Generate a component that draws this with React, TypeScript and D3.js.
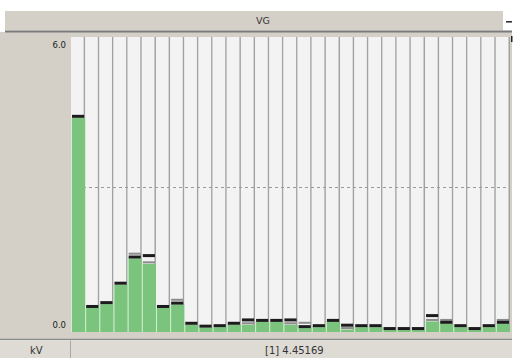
import React from "react";
import * as d3 from "d3";

const channels: number[] = Array.from({ length: 31 }, (_, i) => i + 1);
const current: number[] = [
  4.45169, 0.49, 0.57, 0.975, 1.52, 1.55, 0.49, 0.56, 0.14, 0.08, 0.09,
  0.14, 0.21, 0.2, 0.2, 0.21, 0.07, 0.09, 0.2, 0.1, 0.09, 0.09, 0.03,
  0.03, 0.03, 0.3, 0.16, 0.09, 0.03, 0.09, 0.16,
];
const previous: (number | null)[] = [
  null, null, null, null, 1.59, 1.41, null, 0.63, null, null, null,
  null, 0.14, null, null, 0.14, 0.15, null, null, 0.04, null, null, null,
  null, null, 0.21, 0.21, null, null, null, 0.21,
];
const yTicks: number[] = [0, 6];
const title = "VG";
const unit = "kV";
const readout = "[1] 4.45169";

const W = 514;
const H = 358;

export default function App() {
  const x = d3
    .scaleBand<number>()
    .domain(channels)
    .range([71, 510])
    .padding(0);
  const y = d3.scaleLinear().domain([0, 6]).range([331.5, 43.5]);
  const bw = x.bandwidth();
  const plotTop = 37;
  const plotBottom = 332;
  const font = "'DejaVu Sans', 'Liberation Sans', sans-serif";

  return (
    <svg
      width={W}
      height={H}
      style={{ position: "absolute", left: 0, top: 0, background: "#ffffff" }}
    >
      {/* title bar */}
      <rect x={5} y={11} width={498} height={19.5} fill="#d4d0c8" />
      <text
        x={263}
        y={23.5}
        textAnchor="middle"
        fontFamily={font}
        fontSize={9.5}
        fill="#333"
      >
        {title}
      </text>
      <rect x={506} y={21} width={6} height={1.6} fill="#333" />
      {/* main gray panel */}
      <rect x={0} y={32} width={512} height={308} fill="#d4d0c8" />
      <line x1={5} x2={512} y1={31.5} y2={31.5} stroke="#7a7a7a" strokeWidth={2} />
      <rect x={511} y={36} width={1.5} height={6} fill="#222" />
      {/* columns */}
      {channels.map((c) => (
        <g key={"col" + c}>
          <rect
            x={x(c)!}
            y={plotTop}
            width={bw}
            height={plotBottom - plotTop}
            fill="#f3f3f3"
          />
          <line
            x1={x(c)! + bw - 0.75}
            x2={x(c)! + bw - 0.75}
            y1={plotTop}
            y2={plotBottom}
            stroke="#a2a2a2"
            strokeWidth={1.5}
          />
        </g>
      ))}
      {/* dashed mid line */}
      <line
        x1={71}
        x2={510}
        y1={y(3)}
        y2={y(3)}
        stroke="#9a9a9a"
        strokeWidth={1}
        strokeDasharray="3,3"
      />
      {/* bars */}
      {channels.map((c, i) => {
        const v = current[i];
        const p = previous[i];
        const fillV = p === null ? v : Math.min(v, p);
        const x0 = x(c)!;
        return (
          <g key={"bar" + c}>
            <rect
              x={x0}
              y={y(fillV)}
              width={bw}
              height={plotBottom - y(fillV)}
              fill="#7bc47e"
            />
            <rect
              x={x0}
              y={y(fillV)}
              width={1}
              height={plotBottom - y(fillV)}
              fill="#d2efd2"
            />
            {p !== null && (
              <rect
                x={x0 + 1}
                y={y(p) - 2.5}
                width={bw - 2}
                height={2}
                fill="#8c8c8c"
              />
            )}
            <rect
              x={x0 + 1}
              y={y(v) - 3}
              width={bw - 2}
              height={3}
              fill="#1c1c1c"
            />
          </g>
        );
      })}
      {/* y labels */}
      {yTicks.map((t) => (
        <text
          key={"t" + t}
          x={66}
          y={t === 0 ? 327.5 : 47.5}
          textAnchor="end"
          fontFamily={font}
          fontSize={8.5}
          fill="#222"
        >
          {t.toFixed(1)}
        </text>
      ))}
      {/* bottom status bar */}
      <line x1={0} x2={512} y1={339.5} y2={339.5} stroke="#8a8a8a" strokeWidth={1.5} />
      <rect x={0} y={340.5} width={512} height={17.5} fill="#dedbd4" />
      <line x1={70.5} x2={70.5} y1={340.5} y2={358} stroke="#a8a8a8" strokeWidth={1} />
      <text x={30} y={354} fontFamily={font} fontSize={10} fill="#333">
        {unit}
      </text>
      <text x={265} y={354} fontFamily={font} fontSize={10} fill="#333">
        {readout}
      </text>
    </svg>
  );
}
